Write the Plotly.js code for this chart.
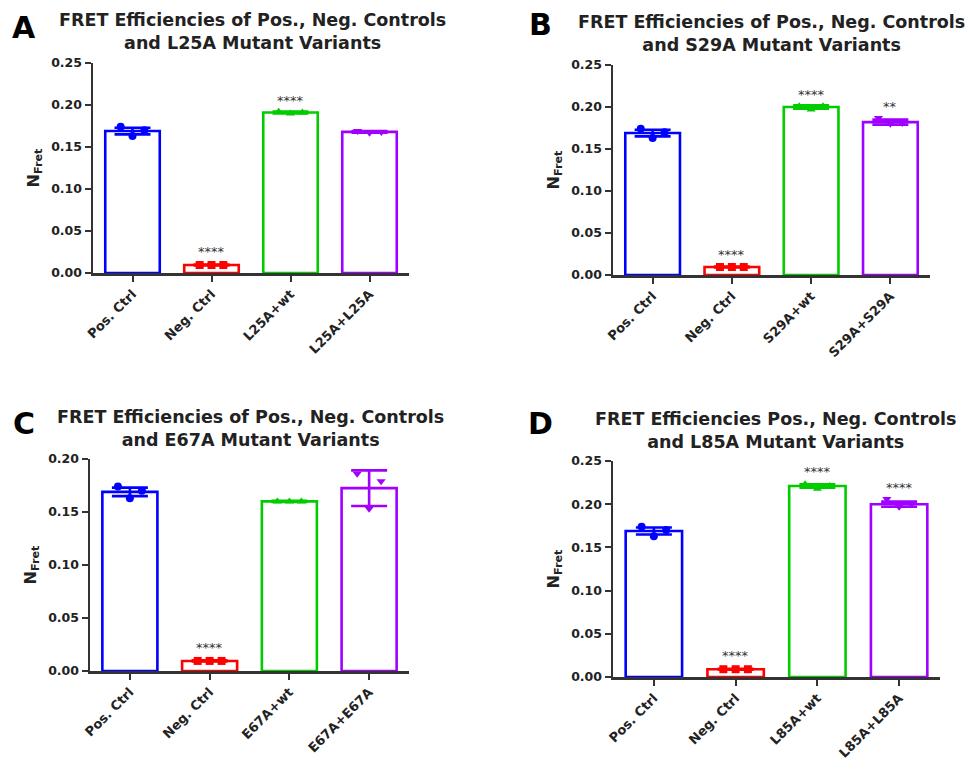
<!DOCTYPE html>
<html>
<head>
<meta charset="utf-8">
<script src="https://cdn.plot.ly/plotly-3.0.1.min.js"></script>
<style>html,body{margin:0;padding:0;background:#fff;}#chart{width:969px;height:761px;}</style>
</head>
<body>
<div id="chart"></div>
<script>
// ---------------- DATA ----------------
const catsA = ['Pos. Ctrl', 'Neg. Ctrl', 'L25A+wt', 'L25A+L25A'];
const meansA = [0.169, 0.0095, 0.191, 0.168];
const sdsA = [0.004, 0.0005, 0.0012, 0.001];
const ptsA = [[0.174, 0.163, 0.170], [0.0095, 0.0095, 0.0095], [0.192, 0.190, 0.191], [0.169, 0.167, 0.168]];
const starsA = ['', '****', '****', ''];
const starYA = [null, 0.025, 0.205, null];
const titleA = 'FRET Efficiencies of Pos., Neg. Controls<br>and L25A Mutant Variants';

const catsB = ['Pos. Ctrl', 'Neg. Ctrl', 'S29A+wt', 'S29A+S29A'];
const meansB = [0.169, 0.0095, 0.200, 0.182];
const sdsB = [0.004, 0.0005, 0.002, 0.003];
const ptsB = [[0.174, 0.163, 0.170], [0.0095, 0.0095, 0.0095], [0.201, 0.197, 0.201], [0.187, 0.180, 0.181]];
const starsB = ['', '****', '****', '**'];
const starYB = [null, 0.024, 0.215, 0.200];
const titleB = 'FRET Efficiencies of Pos., Neg. Controls<br>and S29A Mutant Variants';

const catsC = ['Pos. Ctrl', 'Neg. Ctrl', 'E67A+wt', 'E67A+E67A'];
const meansC = [0.169, 0.0095, 0.160, 0.1725];
const sdsC = [0.004, 0.0005, 0.0006, 0.0168];
const ptsC = [[0.174, 0.163, 0.170], [0.0095, 0.0095, 0.0095], [0.160, 0.160, 0.160], [0.186, 0.153, 0.179]];
const starsC = ['', '****', '', ''];
const starYC = [null, 0.022, null, null];
const titleC = 'FRET Efficiencies of Pos., Neg. Controls<br>and E67A Mutant Variants';

const catsD = ['Pos. Ctrl', 'Neg. Ctrl', 'L85A+wt', 'L85A+L85A'];
const meansD = [0.169, 0.009, 0.221, 0.200];
const sdsD = [0.004, 0.0005, 0.002, 0.003];
const ptsD = [[0.174, 0.163, 0.170], [0.009, 0.009, 0.009], [0.223, 0.218, 0.221], [0.206, 0.197, 0.200]];
const starsD = ['', '****', '****', '****'];
const starYD = [null, 0.0247, 0.2376, 0.2196];
const titleD = 'FRET Efficiencies Pos., Neg. Controls<br>and L85A Mutant Variants';

const yMaxes = [0.25, 0.25, 0.20, 0.25];
const letters = ['A', 'B', 'C', 'D'];

// ---------------- STYLE / LAYOUT ----------------
const W = 969, H = 761;
const FONT = 'DejaVu Sans';
const colors = ['#0000ff', '#ff0000', '#00cc00', '#a000ff'];
const symbols = ['circle', 'square', 'triangle-up', 'triangle-down'];
const jitter = [-0.15, 0, 0.15];

const panels = [
  {cats: catsA, means: meansA, sds: sdsA, pts: ptsA, stars: starsA, starY: starYA, title: titleA,
   xPx: [93, 409], yPx: [63, 273], titlePx: [252, 31.5], letterPx: [24, 27]},
  {cats: catsB, means: meansB, sds: sdsB, pts: ptsB, stars: starsB, starY: starYB, title: titleB,
   xPx: [613, 930], yPx: [65, 275], titlePx: [771, 33.5], letterPx: [540, 25]},
  {cats: catsC, means: meansC, sds: sdsC, pts: ptsC, stars: starsC, starY: starYC, title: titleC,
   xPx: [90, 409], yPx: [459, 671], titlePx: [250, 428.5], letterPx: [24, 423]},
  {cats: catsD, means: meansD, sds: sdsD, pts: ptsD, stars: starsD, starY: starYD, title: titleD,
   xPx: [613, 940], yPx: [461, 677], titlePx: [776, 430], letterPx: [540, 423]}
];

const traces = [];
const annotations = [];
const layout = {
  width: W, height: H,
  margin: {l: 0, r: 0, t: 0, b: 0},
  paper_bgcolor: '#ffffff',
  plot_bgcolor: 'rgba(0,0,0,0)',
  showlegend: false,
  barmode: 'overlay',
  font: {family: FONT, color: '#222'}
};

panels.forEach((p, i) => {
  const n = i === 0 ? '' : String(i + 1);
  const xa = 'x' + n, ya = 'y' + n;
  p.cats.forEach((c, g) => {
    traces.push({
      type: 'bar', x: [g], y: [p.means[g]], width: 0.69,
      xaxis: xa, yaxis: ya, name: c, hoverinfo: 'skip',
      marker: {color: '#ffffff', line: {color: colors[g], width: 2.6}},
      error_y: {type: 'data', array: [p.sds[g]], visible: true, color: colors[g], thickness: 2.6, width: 18}
    });
    traces.push({
      type: 'scatter', mode: 'markers', xaxis: xa, yaxis: ya, name: c, hoverinfo: 'skip',
      x: p.pts[g].map((v, k) => g + jitter[k]), y: p.pts[g],
      marker: {symbol: symbols[g], color: colors[g], size: 8}
    });
    if (p.stars[g]) {
      annotations.push({
        xref: xa, yref: ya, x: g, y: p.starY[g], text: p.stars[g], showarrow: false,
        yanchor: 'middle', font: {family: FONT, size: 13, color: '#333'}
      });
    }
  });
  layout['xaxis' + n] = {
    domain: [p.xPx[0] / W, p.xPx[1] / W], anchor: ya,
    range: [-0.5, 3.5], tickvals: [0, 1, 2, 3], ticktext: p.cats, tickangle: -45,
    ticks: 'outside', ticklen: 6, tickwidth: 2, tickcolor: '#333',
    showline: true, linecolor: '#333', linewidth: 2.5, showgrid: false, zeroline: false,
    tickfont: {family: FONT, size: 13, weight: 'bold', color: '#222'}, fixedrange: true
  };
  layout['yaxis' + n] = {
    domain: [1 - p.yPx[1] / H, 1 - p.yPx[0] / H], anchor: xa,
    range: [0, yMaxes[i]], dtick: 0.05, tick0: 0, tickformat: '.2f',
    ticks: 'outside', ticklen: 6, tickwidth: 2, tickcolor: '#333',
    showline: true, linecolor: '#333', linewidth: 2.5, showgrid: false, zeroline: false,
    tickfont: {family: FONT, size: 12.5, weight: 'bold', color: '#222'}, fixedrange: true,
    title: {text: 'N<sub>Fret</sub>', font: {family: FONT, size: 16, weight: 'bold', color: '#222'}, standoff: 8}
  };
  annotations.push({
    xref: 'paper', yref: 'paper', x: p.titlePx[0] / W, y: 1 - p.titlePx[1] / H,
    xanchor: 'center', yanchor: 'middle', showarrow: false, text: p.title, align: 'center',
    font: {family: FONT, size: 17.5, weight: 'bold', color: '#222'}
  });
  annotations.push({
    xref: 'paper', yref: 'paper', x: p.letterPx[0] / W, y: 1 - p.letterPx[1] / H,
    xanchor: 'center', yanchor: 'middle', showarrow: false, text: letters[i],
    font: {family: FONT, size: 30, weight: 'bold', color: '#000'}
  });
});
layout.annotations = annotations;

Plotly.newPlot('chart', traces, layout, {displayModeBar: false, staticPlot: true});
</script>
</body>
</html>
